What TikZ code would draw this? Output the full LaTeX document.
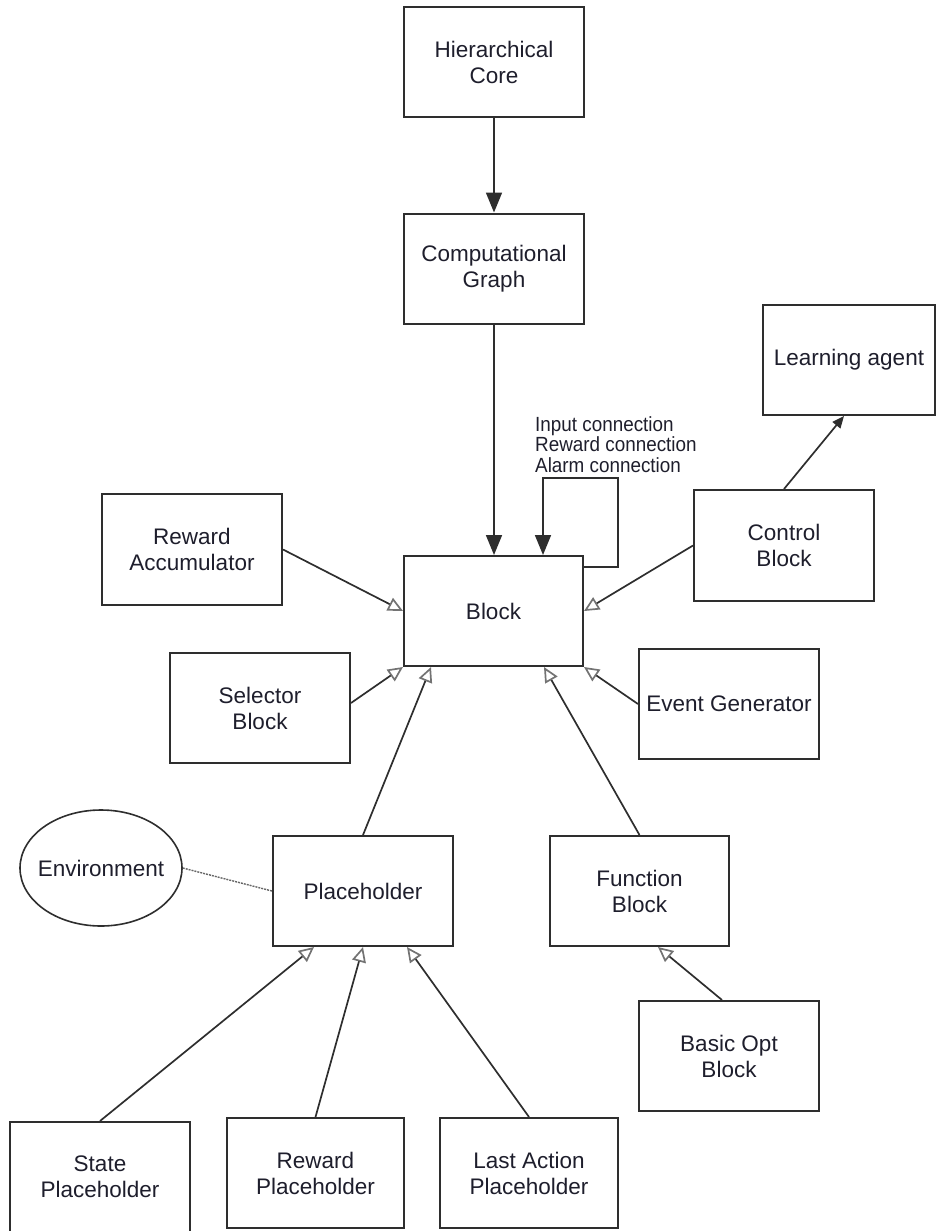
\documentclass[tikz,border=0pt]{standalone}
\usepackage{fontspec}
\setmainfont{Liberation Sans}
\newfontfamily\narrowfont[FakeStretch=0.92]{Liberation Sans}
\usetikzlibrary{arrows.meta,shapes.geometric}

\definecolor{ink}{HTML}{1E1E2C}
\definecolor{edge}{HTML}{2E2E2E}

\tikzset{
  box/.style={draw=edge, line width=2pt, fill=white, minimum width=180pt,
    minimum height=110pt, inner sep=0pt, align=center, text=ink,
    font=\fontsize{22.5}{26}\selectfont},
  oval/.style={draw=edge, line width=1.6pt, ellipse, minimum width=162pt,
    minimum height=116pt, inner sep=0pt, text=ink,
    font=\fontsize{22.5}{26}\selectfont},
  flow/.style={draw=edge, line width=1.7pt,
    -{Triangle[length=20pt,width=16pt]}},
  smallflow/.style={draw=edge, line width=1.7pt,
    -{Triangle[length=12pt,width=10pt]}},
  inherit/.style={draw=edge, line width=1.7pt,
    -{Triangle[open,length=15pt,width=14pt,color=black!55]}},
  assoc/.style={draw=black!60, line width=1.4pt, dash pattern=on 2pt off 1pt},
  tag/.style={anchor=base west, inner sep=0pt, text=ink,
    font=\narrowfont\fontsize{20.5}{21}\selectfont},
}

\begin{document}
\begin{tikzpicture}[x=1pt, y=-1pt]
  \useasboundingbox (0,0) rectangle (937,1231);

  % boxes
  \node[box] (hc)   at (494,62)    {Hierarchical\\Core};
  \node[box] (cg)   at (494,268.5) {Computational\\Graph};
  \node[box, minimum width=179pt] (blk) at (493.5,611) {Block};
  \node[box, minimum width=172pt] (la) at (849,360) {Learning agent};
  \node[box, minimum height=111pt] (ctrl) at (784,545.5) {Control\\Block};
  \node[box, minimum height=111pt] (racc) at (192,549.5) {Reward\\Accumulator};
  \node[box] (sel)  at (260,708)   {Selector\\Block};
  \node[box] (evg)  at (729,704)   {Event Generator};
  \node[box] (ph)   at (363,891)   {Placeholder};
  \node[box, minimum width=179pt] (fb) at (639.5,891) {Function\\Block};
  \node[box] (bob)  at (729,1056)  {Basic Opt\\Block};
  \node[oval] (env) at (101,868)   {\makebox[0pt]{Environment}};
  \node[box] (sp)   at (100,1177)  {State\\Placeholder};
  \node[box, minimum width=177pt] (rp)  at (315.5,1173) {Reward\\Placeholder};
  \node[box, minimum width=178pt] (lap) at (529,1173)   {Last Action\\Placeholder};

  % connection labels
  \node[tag] (lin)  at (535,431)   {Input connection};
  \node[tag] (lrw)  at (535,451.5) {Reward connection};
  \node[tag] (lal)  at (535,472)   {Alarm connection};

  % composition chain
  \draw[flow] (hc.south) -- (cg.north);
  \draw[flow] (cg.south) -- (blk.north -| cg.south);

  % self connection of Block
  \coordinate (loopB) at (618,567);
  \coordinate (loopC) at (618,478);
  \coordinate (loopD) at (543,478);
  \draw[flow] (loopB -| blk.east) -- (loopB) -- (loopC) -- (loopD) -- (blk.north -| loopD);

  % control block to learning agent
  \draw[smallflow] (ctrl.north) -- ([xshift=-5pt]la.south);

  % specialisations of Block
  \draw[inherit] (racc.east) -- (blk.west);
  \draw[inherit] ([yshift=5pt]sel.east) -- (blk.south west);
  \draw[inherit] (ctrl.west) -- (blk.east);
  \draw[inherit] (evg.west) -- (blk.south east);
  \draw[inherit] (ph.north) -- ([xshift=28pt]blk.south west);
  \draw[inherit] (fb.north) -- ([xshift=-40pt]blk.south east);
  \draw[inherit] ([xshift=-7pt]bob.north) -- ([xshift=18.5pt]fb.south);

  % specialisations of Placeholder
  \draw[inherit] (sp.north) -- ([xshift=42pt]ph.south west);
  \draw[inherit] (rp.north) -- (ph.south);
  \draw[inherit] (lap.north) -- ([xshift=44pt]ph.south);

  % environment association
  \draw[assoc] (env.east) -- (ph.west);
\end{tikzpicture}
\end{document}
